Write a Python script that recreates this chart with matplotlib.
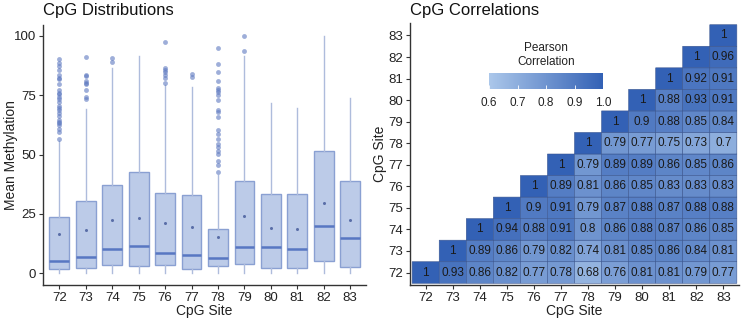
import numpy as np
import matplotlib
matplotlib.use("Agg")
import matplotlib.pyplot as plt
from matplotlib.colors import LinearSegmentedColormap, Normalize
from matplotlib.cm import ScalarMappable

plt.rcParams['font.family'] = ['Liberation Sans', 'DejaVu Sans']

# -------------------------------------------------------------------------
# DATA
# -------------------------------------------------------------------------
sites = ['72', '73', '74', '75', '76', '77', '78', '79', '80', '81', '82', '83']

# box statistics
q1 = [1.8, 2.2, 3.6, 2.9, 3.4, 1.9, 3.1, 3.9, 2.1, 2.1, 5.0, 2.6]
medians = [5.3, 6.7, 10.1, 11.6, 8.4, 7.7, 6.3, 11.1, 10.9, 10.2, 20.0, 15.0]
q3 = [23.6, 30.4, 37.0, 42.8, 33.7, 32.8, 18.6, 39.0, 33.2, 33.2, 51.3, 38.7]
means = [16.5, 18.2, 22.4, 23.1, 21.0, 19.6, 15.2, 24.1, 19.1, 18.8, 29.7, 22.3]
whisker_low = [0, 0, 0, 0, 0, 0, 0, 0, 0, 0, 0, 0]
whisker_high = [55.5, 69.0, 86.5, 91.5, 79.2, 78.5, 41.4, 91.5, 71.5, 69.4, 100.0, 73.6]
outliers = [
    [90.1, 88.6, 87.2, 85.4, 83.5, 82.3, 81.6, 79.8, 77.1, 76.0, 75.3, 74.2, 73.5,
     72.2, 70.4, 69.7, 68.7, 67.3, 66.3, 64.5, 63.8, 63.1, 62.4, 60.6, 59.6, 56.4],
    [91.2, 83.5, 83.0, 80.9, 80.2, 79.5, 77.0, 74.2, 73.5],
    [90.5, 89.1],
    [],
    [97.2, 86.5, 85.5, 84.6, 83.5, 82.3, 80.0],
    [83.7, 82.8],
    [94.7, 88.2, 84.6, 80.9, 78.1, 77.0, 76.4, 75.0, 72.8, 68.7, 67.7, 65.9, 60.3,
     58.5, 56.4, 54.4, 53.0, 51.6, 50.2, 47.1, 45.5, 42.5],
    [100.0, 93.7],
    [], [], [], [],
]

# upper triangle of the correlation matrix, each row starts at the diagonal
corr_rows = [
    [1, 0.93, 0.86, 0.82, 0.77, 0.78, 0.68, 0.76, 0.81, 0.81, 0.79, 0.77],
    [1, 0.89, 0.86, 0.79, 0.82, 0.74, 0.81, 0.85, 0.86, 0.84, 0.81],
    [1, 0.94, 0.88, 0.91, 0.8, 0.86, 0.88, 0.87, 0.86, 0.85],
    [1, 0.9, 0.91, 0.79, 0.87, 0.88, 0.87, 0.88, 0.88],
    [1, 0.89, 0.81, 0.86, 0.85, 0.83, 0.83, 0.83],
    [1, 0.79, 0.89, 0.89, 0.86, 0.85, 0.86],
    [1, 0.79, 0.77, 0.75, 0.73, 0.7],
    [1, 0.9, 0.88, 0.85, 0.84],
    [1, 0.88, 0.93, 0.91],
    [1, 0.92, 0.91],
    [1, 0.96],
    [1],
]
cbar_ticks = [0.6, 0.7, 0.8, 0.9, 1.0]

# -------------------------------------------------------------------------
# STYLE
# -------------------------------------------------------------------------
BOX_FILL = '#bccbe8'
BOX_EDGE = '#8aa0d2'
MEDIAN_COLOR = '#5877c2'
WHISKER_COLOR = '#aebcdc'
POINT_COLOR = '#5d79c0'
AXIS_COLOR = '#333333'

W, H = 742, 318
fig = plt.figure(figsize=(W / 100, H / 100), dpi=100)


def style_axis(ax):
    for side in ['top', 'right']:
        ax.spines[side].set_visible(False)
    for side in ['left', 'bottom']:
        ax.spines[side].set_color(AXIS_COLOR)
        ax.spines[side].set_linewidth(1.0)
    ax.tick_params(axis='both', colors=AXIS_COLOR, length=3, width=0.8,
                   labelsize=9.5, labelcolor='#222222', pad=2)


# -------------------------------------------------------------------------
# LEFT: boxplots
# -------------------------------------------------------------------------
ax1 = fig.add_axes([43 / W, 1 - 285 / H, (366 - 43) / W, (285 - 25) / H])
stats = []
for i, s in enumerate(sites):
    stats.append(dict(label=s, q1=q1[i], med=medians[i], q3=q3[i], mean=means[i],
                      whislo=whisker_low[i], whishi=whisker_high[i], fliers=outliers[i]))

ax1.bxp(stats, positions=range(len(sites)), widths=0.75, patch_artist=True,
        showmeans=True, showcaps=False,
        boxprops=dict(facecolor=BOX_FILL, edgecolor=BOX_EDGE, linewidth=1.0),
        medianprops=dict(color=MEDIAN_COLOR, linewidth=1.8),
        whiskerprops=dict(color=WHISKER_COLOR, linewidth=1.0),
        meanprops=dict(marker='o', markersize=2.2, markerfacecolor='#5a6ea8',
                       markeredgecolor='none'),
        flierprops=dict(marker='o', markersize=3.5, markerfacecolor=POINT_COLOR,
                        markeredgecolor='none', alpha=0.6))
ax1.set_xlim(-0.62, 11.6)
ax1.set_ylim(-4.9, 104.5)
ax1.set_yticks([0, 25, 50, 75, 100])
ax1.set_xticks(range(len(sites)))
ax1.set_xticklabels(sites)
style_axis(ax1)
ax1.set_xlabel('CpG Site', fontsize=10, color='#222222', labelpad=0)
ax1.set_ylabel('Mean Methylation', fontsize=10, color='#222222')
# label anchor is the right-hand edge of the rotated text
ax1.yaxis.set_label_coords((18 - 43) / 323, 0.5)
fig.text(43 / W, 1 - 15 / H, 'CpG Distributions', fontsize=12, color='#111111',
         va='baseline', ha='left')

# -------------------------------------------------------------------------
# RIGHT: correlation heatmap
# -------------------------------------------------------------------------
n = len(sites)
corr = np.full((n, n), np.nan)
for i, row in enumerate(corr_rows):
    for k, v in enumerate(row):
        corr[i, i + k] = v
masked = np.ma.masked_invalid(corr)

cmap = LinearSegmentedColormap.from_list('pearson', ['#abc7ea', '#3361b5'])
norm = Normalize(vmin=0.6, vmax=1.0)

ax2 = fig.add_axes([410 / W, 1 - 285 / H, (739 - 410) / W, (285 - 23) / H])
edges = np.arange(n + 1) - 0.5
# pcolor leaves the masked (lower) cells out entirely
ax2.pcolor(edges, edges, masked, cmap=cmap, norm=norm,
           edgecolors='#3a5690', linewidth=0.4)
for i in range(n):
    for j in range(n):
        if not np.isnan(corr[i, j]):
            ax2.text(j, i, f'{corr[i, j]:g}', ha='center', va='center',
                     fontsize=8.5, color='#1a1a1a')
ax2.set_xlim(-0.58, n - 0.42)
ax2.set_ylim(-0.58, n - 0.42)
ax2.set_xticks(range(n))
ax2.set_xticklabels(sites)
ax2.set_yticks(range(n))
ax2.set_yticklabels(sites)
style_axis(ax2)
ax2.set_xlabel('CpG Site', fontsize=10, color='#222222', labelpad=0)
ax2.set_ylabel('CpG Site', fontsize=10, color='#222222')
ax2.yaxis.set_label_coords((387 - 410) / 329, 0.5)
fig.text(410 / W, 1 - 15 / H, 'CpG Correlations', fontsize=12, color='#111111',
         va='baseline', ha='left')

# colourbar legend inside the heatmap panel
cax = fig.add_axes([489 / W, 1 - 89 / H, 114 / W, 16 / H])
sm = ScalarMappable(norm=norm, cmap=cmap)
cb = fig.colorbar(sm, cax=cax, orientation='horizontal', ticks=cbar_ticks)
cb.outline.set_visible(False)
cb.ax.set_xticklabels([f'{t:.1f}' for t in cbar_ticks])
cb.ax.tick_params(axis='x', direction='in', length=3, width=0.6, colors='white',
                  labelcolor='#222222', labelsize=8.5, pad=6)
fig.text(546 / W, 1 - 55 / H, 'Pearson\nCorrelation', fontsize=8.5, color='#222222',
         ha='center', va='center', linespacing=1.2)

fig.savefig('out.png', dpi=100)
